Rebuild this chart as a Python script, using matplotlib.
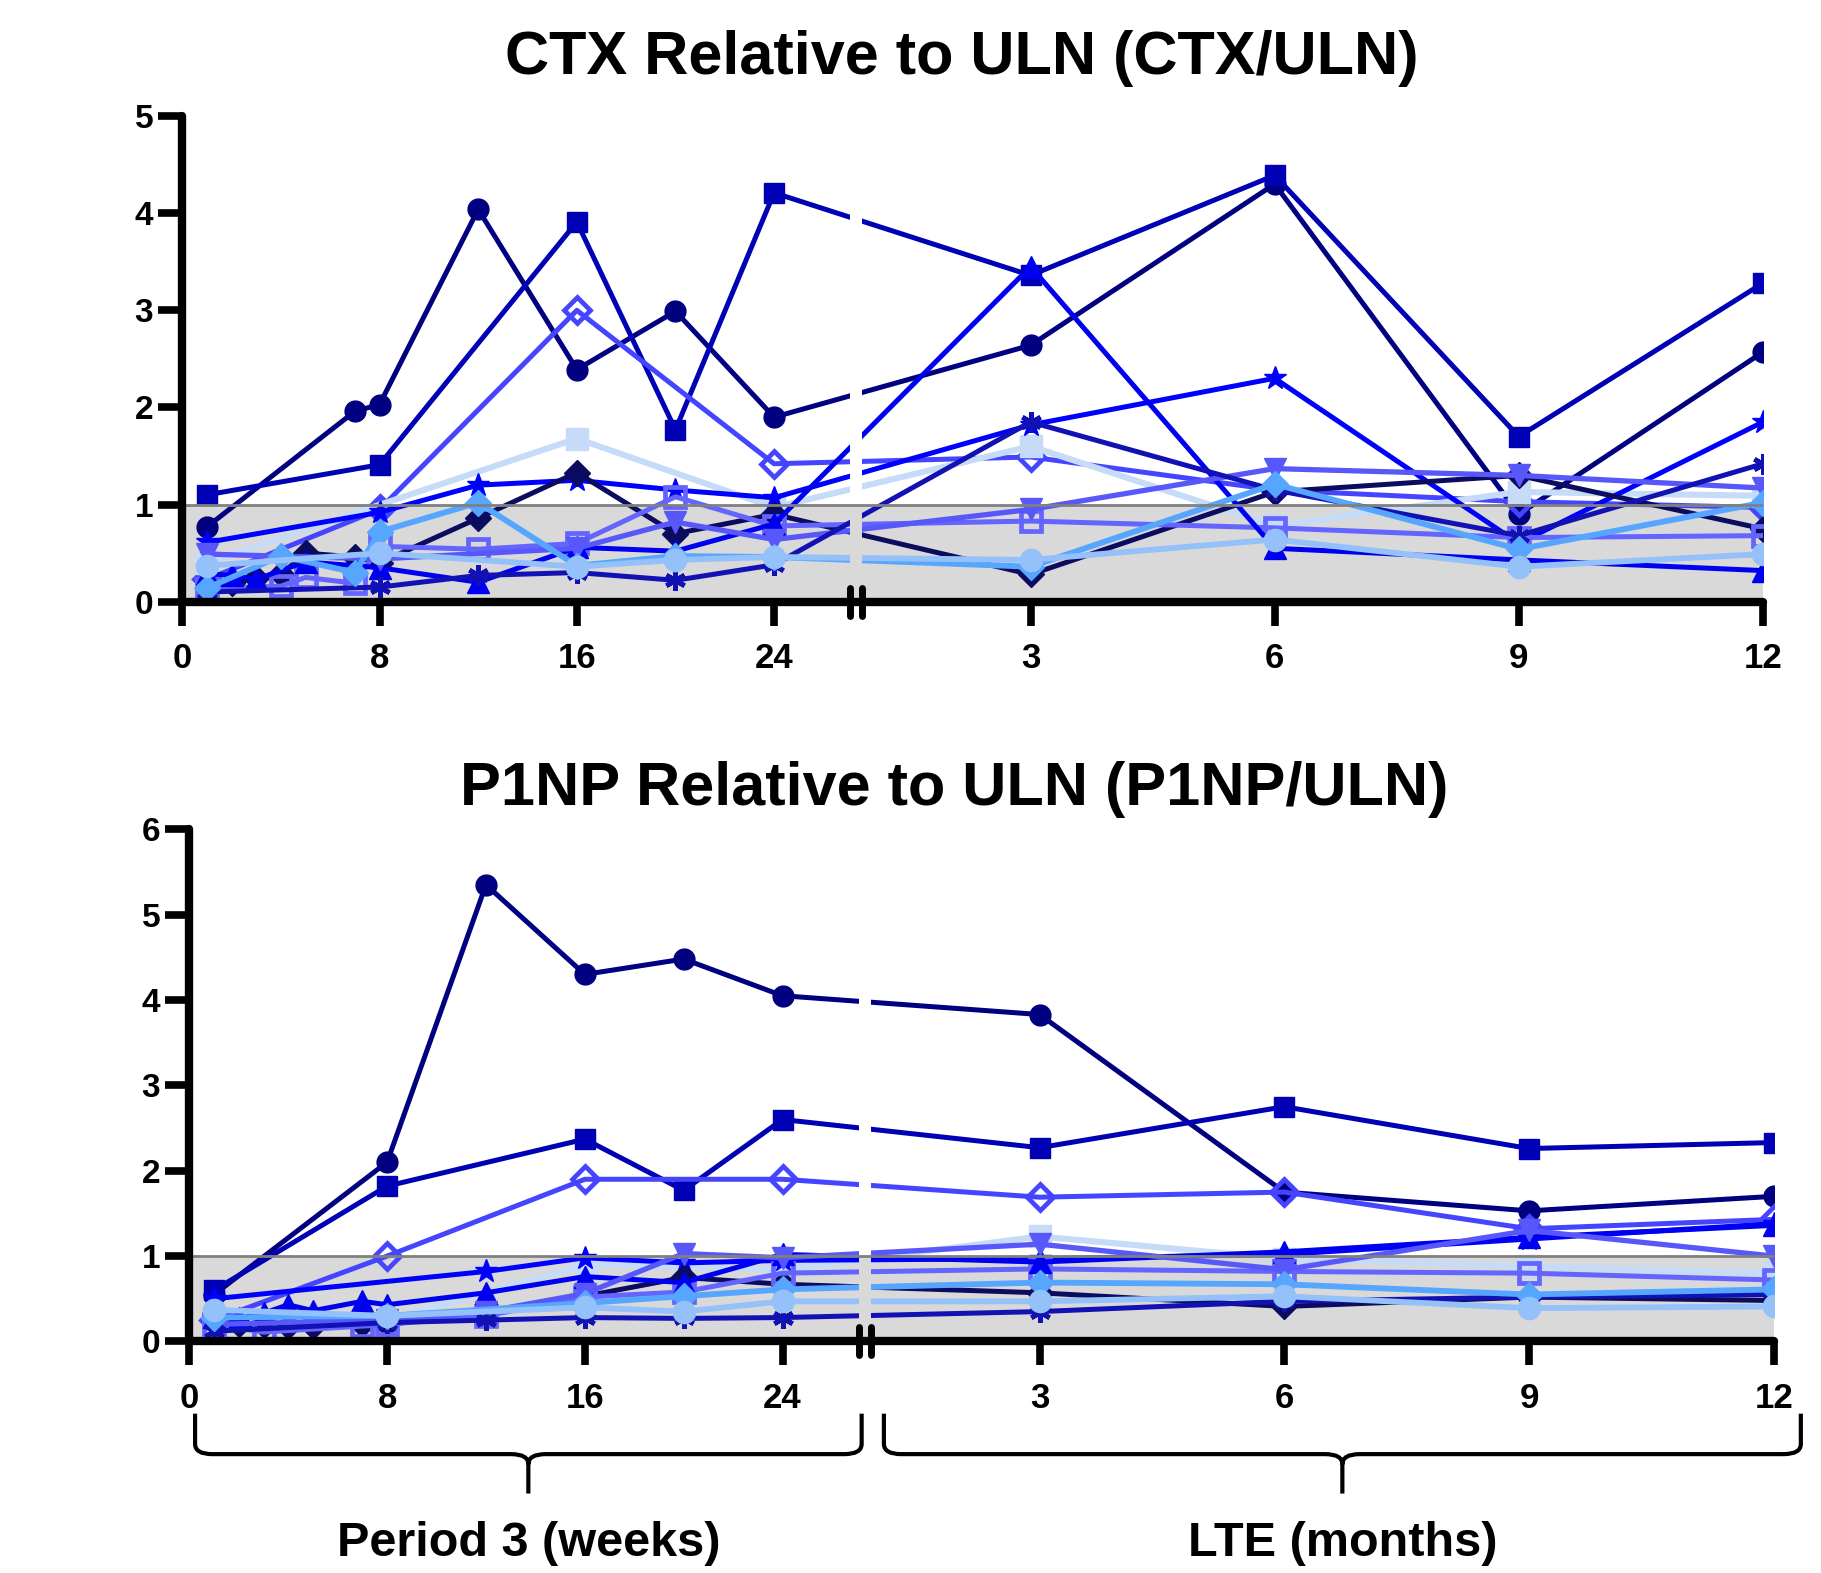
import numpy as np
import matplotlib.pyplot as plt
from matplotlib.path import Path
from matplotlib.patches import PathPatch, Rectangle
from matplotlib.lines import Line2D
import matplotlib.transforms as mtransforms

plt.rcParams['font.family'] = ['Liberation Sans', 'DejaVu Sans']
plt.rcParams['font.weight'] = 'bold'

# time grid: weeks of period 3, then months of the LTE
weeks = [1, 2, 3, 4, 5, 7, 8, 12, 16, 20, 24]
months = [3, 6, 9, 12]
week_ticks = [0, 8, 16, 24]
month_ticks = [3, 6, 9, 12]

N = None
# CTX / ULN, one list per patient (11 weekly values, then 4 monthly values)
ctx_p1 = [0.77, N, N, N, N, 1.96, 2.03, 4.04, 2.39, 2.99, 1.90, 2.64, 4.30, 0.90, 2.57]
ctx_p2 = [1.10, N, N, N, N, N, 1.41, N, 3.91, 1.77, 4.21, 3.36, 4.39, 1.70, 3.28]
ctx_p3 = [0.23, N, N, N, N, N, 0.95, N, 3.00, N, 1.42, 1.49, 1.15, 1.03, 0.97]
ctx_p4 = [0.40, N, N, N, N, N, N, N, 1.68, N, 0.97, 1.60, 0.78, 1.13, 1.09]
ctx_p5 = [0.61, N, N, N, N, N, 0.92, 1.20, 1.25, 1.15, 1.07, 1.82, 2.30, 0.60, 1.85]
ctx_p6 = [N, 0.19, 0.24, 0.28, 0.50, 0.46, 0.40, 0.86, 1.33, 0.70, 0.90, 0.28, 1.13, 1.30, 0.75]
ctx_p7 = [0.13, N, N, 0.16, 0.25, 0.19, 0.57, 0.54, 0.60, 1.08, 0.78, 0.83, 0.76, 0.66, 0.68]
ctx_p8 = [0.29, 0.27, 0.23, N, 0.41, N, 0.35, 0.20, 0.56, 0.52, 0.80, 3.45, 0.55, 0.43, 0.32]
ctx_p9 = [0.49, N, N, N, N, N, 0.44, N, 0.55, 0.82, 0.64, 0.95, 1.37, 1.30, 1.17]
ctx_p10 = [0.10, N, N, N, N, N, 0.15, 0.27, 0.30, 0.22, 0.38, 1.85, 1.15, 0.68, 1.42]
ctx_p11 = [0.14, N, N, 0.47, N, 0.30, 0.72, 1.02, 0.37, 0.47, 0.46, 0.36, 1.21, 0.54, 1.02]
ctx_p12 = [0.37, N, N, N, N, N, 0.50, N, 0.36, 0.43, 0.46, 0.43, 0.64, 0.36, 0.49]

# P1NP / ULN
p1np_p1 = [0.55, N, N, N, N, N, 2.10, 5.35, 4.30, 4.48, 4.05, 3.83, 1.75, 1.53, 1.70]
p1np_p2 = [0.60, N, N, N, N, N, 1.82, N, 2.37, 1.77, 2.60, 2.27, 2.75, 2.26, 2.33]
p1np_p3 = [0.25, N, N, N, N, N, 1.00, N, 1.90, N, 1.90, 1.69, 1.75, 1.32, 1.43]
p1np_p4 = [0.13, N, N, N, N, N, 0.25, N, 0.90, N, 0.84, 1.23, 0.97, 0.88, 0.80]
p1np_p5 = [0.50, N, N, N, N, N, N, 0.82, 0.98, 0.92, 0.95, 0.97, 1.02, 1.20, 1.38]
p1np_p6 = [N, 0.20, 0.19, 0.18, 0.18, 0.21, 0.20, 0.33, 0.53, 0.75, 0.67, 0.57, 0.41, 0.52, 0.48]
p1np_p7 = [0.20, N, 0.11, N, N, 0.18, 0.20, 0.30, 0.52, 0.58, 0.80, 0.85, 0.82, 0.80, 0.72]
p1np_p8 = [0.29, 0.27, 0.33, 0.43, 0.36, 0.47, 0.43, 0.57, 0.76, 0.69, 1.02, 0.93, 1.05, 1.22, 1.36]
p1np_p9 = [0.20, N, N, N, N, N, 0.25, 0.35, 0.56, 1.03, 0.98, 1.14, 0.84, 1.30, 1.00]
p1np_p10 = [0.12, N, N, N, N, N, 0.22, 0.25, 0.28, 0.27, 0.28, 0.35, 0.47, 0.52, 0.55]
p1np_p11 = [0.28, N, N, N, N, N, 0.30, N, 0.45, 0.53, 0.61, 0.69, 0.67, 0.55, 0.61]
p1np_p12 = [0.37, N, N, N, N, N, 0.30, N, 0.40, 0.35, 0.47, 0.47, 0.53, 0.39, 0.41]

ctx_series = [ctx_p1, ctx_p2, ctx_p3, ctx_p4, ctx_p5, ctx_p6,
              ctx_p7, ctx_p8, ctx_p9, ctx_p10, ctx_p11, ctx_p12]
p1np_series = [p1np_p1, p1np_p2, p1np_p3, p1np_p4, p1np_p5, p1np_p6,
               p1np_p7, p1np_p8, p1np_p9, p1np_p10, p1np_p11, p1np_p12]

# styles, one per patient
colors = ['#000080', '#0000B4', '#4545FF', '#C5DBF7', '#0000FF', '#0B0B60',
          '#6464FF', '#0000F0', '#5858FA', '#1212B4', '#56A6FF', '#95C1FA']
markers = ['o', 's', 'D', 's', '*', 'D', 's', '^', 'v', (6, 2, 0), 'D', 'o']
msizes = [15, 15, 13, 16, 17, 13, 14, 16, 16, 15, 13, 16]
hollow = [False, False, True, False, False, False, True, False, False, False, False, False]
lwidths = [3.6, 3.6, 3.6, 4.4, 3.6, 3.6, 3.6, 3.6, 3.8, 3.6, 4.2, 4.2]

# broken x axis: weeks plotted as is, months placed after the break
BREAK = (27.08, 27.56)


def lte_pos(m):
    return 24.5 + 3.3 * np.asarray(m, dtype=float)


x_all = np.concatenate([np.array(weeks, float), lte_pos(months)])
XMAX = float(lte_pos(12))
GREY = '#D9D9D9'


def setup_axis(ax, ymax):
    ax.set_xlim(0, XMAX)
    ax.set_ylim(0, ymax)
    ax.axhspan(0, 1, color=GREY, zorder=0, lw=0)
    ax.axhline(1, color='#808080', lw=2, zorder=6)
    # gap in the lines at the break
    ax.axvspan(BREAK[0], BREAK[1], color='white', zorder=5, lw=0)
    ax.add_patch(Rectangle((BREAK[0], 0), BREAK[1] - BREAK[0], 1, color=GREY, zorder=5.1, lw=0))
    for s in ['top', 'right']:
        ax.spines[s].set_visible(False)
    for s in ['left', 'bottom']:
        ax.spines[s].set_linewidth(6)
        ax.spines[s].set_zorder(10)
        ax.spines[s].set_capstyle('round')
    ax.set_xticks(list(week_ticks) + list(lte_pos(month_ticks)))
    ax.set_xticklabels([str(w) for w in week_ticks] + [str(m) for m in month_ticks])
    ax.set_yticks(range(0, ymax + 1))
    ax.tick_params(axis='both', width=5.5, length=17, direction='out')
    ax.tick_params(axis='x', pad=12, labelsize=25)
    ax.tick_params(axis='y', pad=4, labelsize=24)
    for lab in ax.get_xticklabels() + ax.get_yticklabels():
        lab.set_fontweight('bold')
    # break marks on the x axis
    tr = mtransforms.blended_transform_factory(ax.transData, ax.transAxes)
    dy = 14 / (ax.get_position().height * 1573)
    for xb in BREAK:
        ax.add_line(Line2D([xb, xb], [-dy, dy], transform=tr, color='black', lw=5,
                           solid_capstyle='round', clip_on=False, zorder=11))


def draw_series(ax, series):
    for vals, c, mk, ms, hol, lw in zip(series, colors, markers, msizes, hollow, lwidths):
        y = np.array([np.nan if v is None else v for v in vals], float)
        ok = ~np.isnan(y)
        ax.plot(x_all[ok], y[ok], color=c, lw=lw, marker=mk, markersize=ms,
                markerfacecolor='none' if hol else c, markeredgecolor=c,
                markeredgewidth=3.4 if (hol or mk == (6, 2, 0)) else 1, zorder=3)


fig = plt.figure(figsize=(18.21, 15.73), dpi=100)
ax1 = fig.add_axes([0.1001, 0.6175, 0.868, 0.3087])
ax2 = fig.add_axes([0.1040, 0.1472, 0.870, 0.3256])

setup_axis(ax1, 5)
draw_series(ax1, ctx_series)
setup_axis(ax2, 6)
draw_series(ax2, p1np_series)

fig.text(0.528, 0.963, 'CTX Relative to ULN (CTX/ULN)', ha='center', va='center',
         fontsize=44, fontweight='bold')
fig.text(0.524, 0.498, 'P1NP Relative to ULN (P1NP/ULN)', ha='center', va='center',
         fontsize=44, fontweight='bold')


def draw_brace(ax, x0, x1, y_top, y_mid, y_tip, rx, ry):
    xm = (x0 + x1) / 2
    verts = [(x0, y_top), (x0, y_mid + ry), (x0, y_mid), (x0 + rx, y_mid),
             (xm - rx, y_mid), (xm, y_mid), (xm, y_mid - ry), (xm, y_tip),
             (xm, y_mid - ry), (xm, y_mid), (xm + rx, y_mid),
             (x1 - rx, y_mid), (x1, y_mid), (x1, y_mid + ry), (x1, y_top)]
    codes = [Path.MOVETO, Path.LINETO, Path.CURVE3, Path.CURVE3,
             Path.LINETO, Path.CURVE3, Path.CURVE3, Path.LINETO,
             Path.MOVETO, Path.CURVE3, Path.CURVE3,
             Path.LINETO, Path.CURVE3, Path.CURVE3, Path.LINETO]
    tr = mtransforms.blended_transform_factory(ax.transData, ax.transAxes)
    ax.add_patch(PathPatch(Path(verts, codes), transform=tr, fill=False,
                           lw=3, color='black', clip_on=False))
    return xm


xm1 = draw_brace(ax2, 0.23, 27.2, -0.141, -0.22, -0.297, 0.7, 0.02)
xm2 = draw_brace(ax2, 28.1, 65.2, -0.141, -0.22, -0.297, 0.7, 0.02)
ax2.text(xm1, -0.395, 'Period 3 (weeks)', transform=ax2.get_xaxis_transform(),
         ha='center', va='center', fontsize=35, fontweight='bold')
ax2.text(xm2, -0.395, 'LTE (months)', transform=ax2.get_xaxis_transform(),
         ha='center', va='center', fontsize=35, fontweight='bold')

fig.savefig('out.png', dpi=100)
